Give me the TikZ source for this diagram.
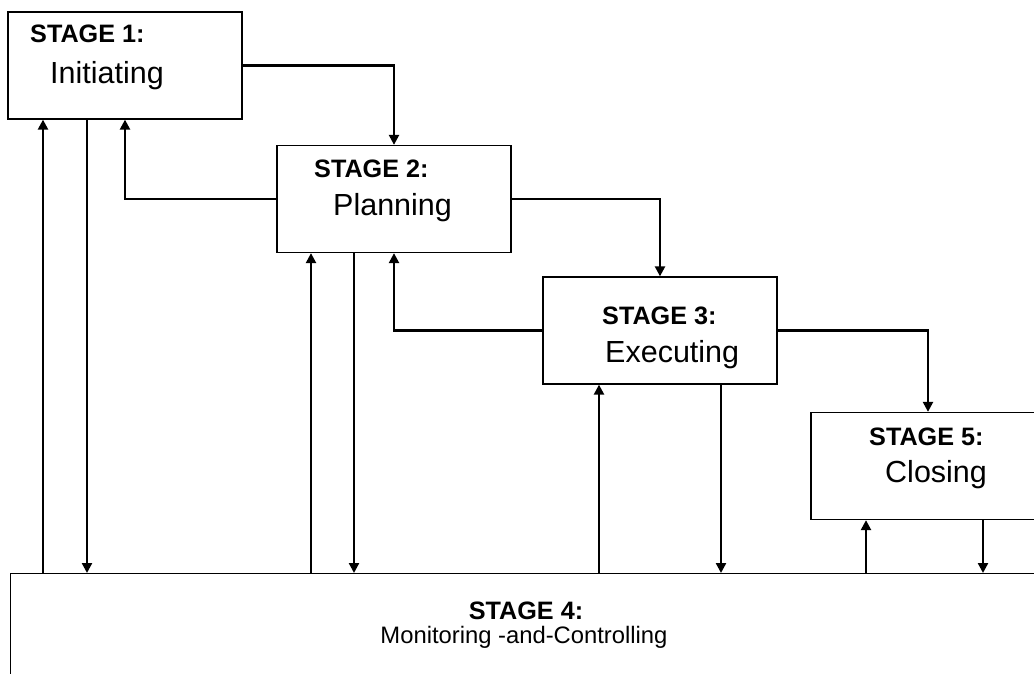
\documentclass[tikz,border=0pt]{standalone}
\usepackage{fontspec}
\setmainfont{Liberation Sans}
\usetikzlibrary{arrows.meta}

\begin{document}
\begin{tikzpicture}[x=1pt,y=-1pt,
  stagebox/.style={draw=black, line width=1.3pt, fill=white, rectangle,
    minimum width=234pt, minimum height=107pt, inner sep=0pt},
  flow/.style={line width=2.3pt, -{Triangle[length=10pt,width=10pt]}},
  headtext/.style={anchor=base west, inner sep=0pt,
    font=\bfseries\fontsize{25.2}{30}\selectfont},
  nametext/.style={anchor=base west, inner sep=0pt,
    font=\fontsize{30.5}{36}\selectfont},
  bottomtext/.style={anchor=base, inner sep=0pt}]

\useasboundingbox (0,0) rectangle (1034,674);
\clip (0,0) rectangle (1034,674);

% process groups
\node[stagebox] (box1) at (125,65.5) {};
\node[stagebox] (box2) at (394,199) {};
\node[stagebox] (box3) at (660,330.5) {};
\node[stagebox] (box5) at (928,466) {};
\node[stagebox, minimum width=1030pt, minimum height=200pt, anchor=north west]
  (box4) at (10,573) {};

% labels
\node[headtext] (h1) at (30,43) {STAGE 1:};
\node[nametext] (n1) at (50,84) {Initiating};
\node[headtext] (h2) at (314,178) {STAGE 2:};
\node[nametext] (n2) at (333,215) {Planning};
\node[headtext] (h3) at (602,324) {STAGE 3:};
\node[nametext] (n3) at (605,362) {Executing};
\node[headtext] (h5) at (869,445) {STAGE 5:};
\node[nametext] (n5) at (885,482) {Closing};
\node[bottomtext, font=\bfseries\fontsize{25.2}{30}\selectfont] (h4) at (526,619) {STAGE 4:};
\node[bottomtext, font=\fontsize{23.8}{28}\selectfont] (n4) at (524,643) {Monitoring -and-Controlling};

% forward flow between stages
\draw[flow] (box1.east) -| (box2.north);
\draw[flow] (box2.east) -| (box3.north);
\draw[flow] (box3.east) -| (box5.north);

% feedback to the previous stage
\draw[flow] (box2.west) -| (box1.south);
\draw[flow] (box3.west) -| (box2.south);

% exchanges with monitoring and controlling
\draw[flow] ([xshift=-82pt]box1.south |- box4.north) -- ([xshift=-82pt]box1.south);
\draw[flow] ([xshift=-38pt]box1.south) -- ([xshift=-38pt]box1.south |- box4.north);
\draw[flow] ([xshift=-83pt]box2.south |- box4.north) -- ([xshift=-83pt]box2.south);
\draw[flow] ([xshift=-40pt]box2.south) -- ([xshift=-40pt]box2.south |- box4.north);
\draw[flow] ([xshift=-61pt]box3.south |- box4.north) -- ([xshift=-61pt]box3.south);
\draw[flow] ([xshift=61pt]box3.south) -- ([xshift=61pt]box3.south |- box4.north);
\draw[flow] ([xshift=-62pt]box5.south |- box4.north) -- ([xshift=-62pt]box5.south);
\draw[flow] ([xshift=55pt]box5.south) -- ([xshift=55pt]box5.south |- box4.north);
\end{tikzpicture}
\end{document}
